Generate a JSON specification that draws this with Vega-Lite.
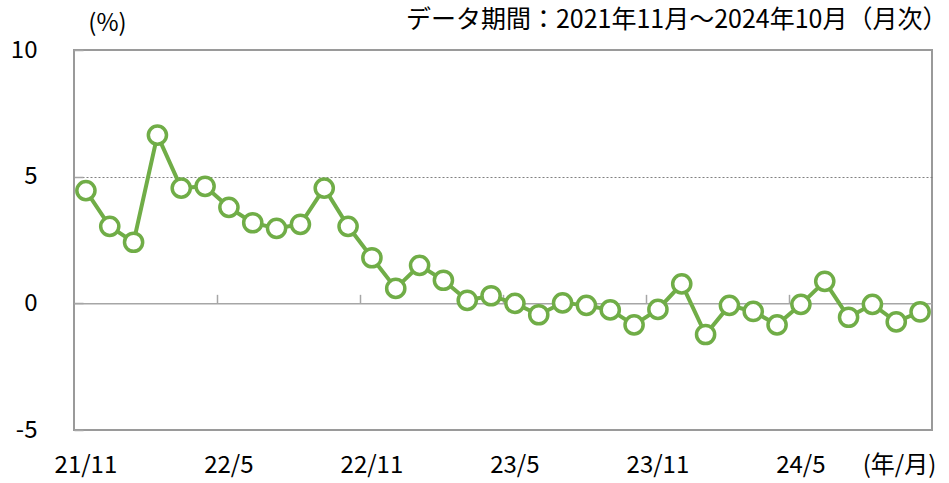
{
  "$schema": "https://vega.github.io/schema/vega-lite/v6.json",
  "width": 858,
  "height": 380,
  "autosize": "none",
  "padding": {"left": 74, "top": 50, "right": 17, "bottom": 53},
  "config": {
    "font": "Noto Sans CJK JP",
    "view": {"stroke": "#9a9a9a", "strokeWidth": 2}
  },
  "data": {
    "values": [
      {"month": "21/11", "value": 4.45},
      {"month": "21/12", "value": 3.04},
      {"month": "22/1", "value": 2.41},
      {"month": "22/2", "value": 6.64},
      {"month": "22/3", "value": 4.55},
      {"month": "22/4", "value": 4.62},
      {"month": "22/5", "value": 3.79},
      {"month": "22/6", "value": 3.18},
      {"month": "22/7", "value": 2.96},
      {"month": "22/8", "value": 3.12},
      {"month": "22/9", "value": 4.55},
      {"month": "22/10", "value": 3.04},
      {"month": "22/11", "value": 1.80},
      {"month": "22/12", "value": 0.59},
      {"month": "23/1", "value": 1.50},
      {"month": "23/2", "value": 0.91},
      {"month": "23/3", "value": 0.12},
      {"month": "23/4", "value": 0.30},
      {"month": "23/5", "value": 0.00},
      {"month": "23/6", "value": -0.45},
      {"month": "23/7", "value": 0.02},
      {"month": "23/8", "value": -0.08},
      {"month": "23/9", "value": -0.26},
      {"month": "23/10", "value": -0.85},
      {"month": "23/11", "value": -0.24},
      {"month": "23/12", "value": 0.77},
      {"month": "24/1", "value": -1.23},
      {"month": "24/2", "value": -0.08},
      {"month": "24/3", "value": -0.32},
      {"month": "24/4", "value": -0.85},
      {"month": "24/5", "value": -0.04},
      {"month": "24/6", "value": 0.87},
      {"month": "24/7", "value": -0.55},
      {"month": "24/8", "value": -0.04},
      {"month": "24/9", "value": -0.73},
      {"month": "24/10", "value": -0.34}
    ]
  },
  "layer": [
    {
      "mark": {"type": "line", "color": "#70AD47", "strokeWidth": 4},
      "encoding": {
        "x": {
          "field": "month",
          "type": "ordinal",
          "sort": null,
          "scale": {"type": "band", "paddingInner": 0, "paddingOuter": 0},
          "axis": {
            "orient": "bottom",
            "offset": -126.67,
            "values": ["22/5", "22/11", "23/5", "23/11", "24/5"],
            "bandPosition": 0,
            "domain": true,
            "domainColor": "#a6a6a6",
            "domainWidth": 1.5,
            "ticks": true,
            "tickSize": -9,
            "tickColor": "#a6a6a6",
            "tickWidth": 1.5,
            "labels": false,
            "grid": false,
            "title": "データ期間：2021年11月～2024年10月（月次）",
            "titleFontSize": 25,
            "titleFontWeight": "normal",
            "titleColor": "#000000",
            "titleLimit": 800,
            "titleX": 873,
            "titleY": -284,
            "titleAlign": "right",
            "titleBaseline": "middle"
          }
        },
        "y": {
          "field": "value",
          "type": "quantitative",
          "scale": {"domain": [-5, 10], "nice": false, "zero": false},
          "axis": {
            "values": [-5, 0, 5, 10],
            "labelExpr": "'' + datum.value",
            "domain": false,
            "ticks": true,
            "tickSize": -9,
            "tickColor": "#a6a6a6",
            "tickWidth": 1.5,
            "labelPadding": 46,
            "labelFontSize": 24,
            "labelColor": "#000000",
            "labelAlign": "right",
            "labelBaseline": "middle",
            "grid": true,
            "gridColor": "#808080",
            "gridWidth": 1,
            "gridDash": [2, 2],
            "gridOpacity": {"condition": {"test": "datum.value === 5", "value": 1}, "value": 0},
            "title": "(%)",
            "titleAngle": 0,
            "titleFontSize": 24,
            "titleFontWeight": "normal",
            "titleColor": "#000000",
            "titleX": 33,
            "titleY": -27,
            "titleAlign": "center",
            "titleBaseline": "middle"
          }
        }
      }
    },
    {
      "mark": {"type": "point", "filled": true, "fill": "#ffffff", "stroke": "#70AD47", "strokeWidth": 3.5, "size": 330, "opacity": 1},
      "encoding": {
        "x": {
          "field": "month",
          "type": "ordinal",
          "sort": null,
          "axis": {
            "orient": "bottom",
            "offset": 0,
            "values": ["21/11", "22/5", "22/11", "23/5", "23/11", "24/5"],
            "domain": false,
            "ticks": false,
            "tickSize": 0,
            "labels": true,
            "labelAngle": 0,
            "labelFontSize": 24,
            "labelColor": "#000000",
            "labelPadding": 35,
            "labelBaseline": "middle",
            "grid": false,
            "title": "(年/月)",
            "titleFontSize": 24,
            "titleFontWeight": "normal",
            "titleColor": "#000000",
            "titleX": 825,
            "titleY": 35,
            "titleAlign": "center",
            "titleBaseline": "middle"
          }
        },
        "y": {"field": "value", "type": "quantitative"}
      }
    }
  ],
  "resolve": {"axis": {"x": "independent"}}
}
